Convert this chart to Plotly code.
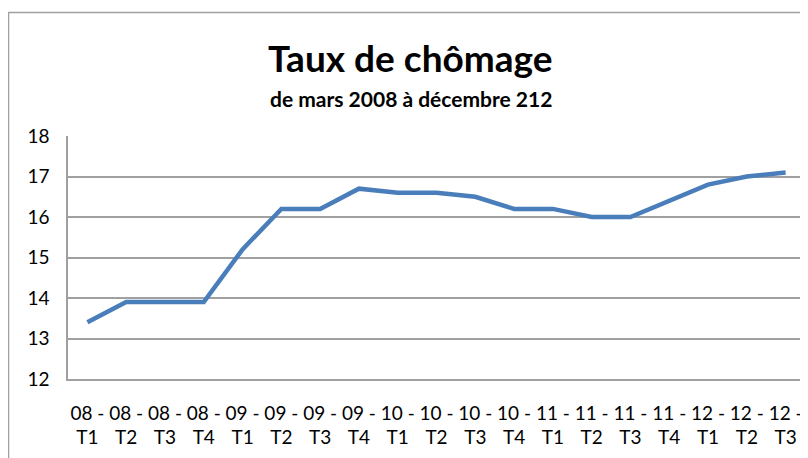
import plotly.graph_objects as go

categories = ["08 - T1", "08 - T2", "08 - T3", "08 - T4",
              "09 - T1", "09 - T2", "09 - T3", "09 - T4",
              "10 - T1", "10 - T2", "10 - T3", "10 - T4",
              "11 - T1", "11 - T2", "11 - T3", "11 - T4",
              "12 - T1", "12 - T2", "12 - T3"]
taux = [13.4, 13.9, 13.9, 13.9,
        15.2, 16.2, 16.2, 16.7,
        16.6, 16.6, 16.5, 16.2,
        16.2, 16.0, 16.0, 16.4,
        16.8, 17.0, 17.1]
y_ticks = [12, 13, 14, 15, 16, 17, 18]

title_text = "Taux de chômage"
subtitle_text = "de mars 2008 à décembre 212"

tick_text = [c.replace(" - ", " -<br>") for c in categories]

FONT = "Lato"
OFF = 8  # page body margin offset
W, H = 808 - OFF, 458 - OFF
# plot area in reference (window) pixels
PX0, PX1, PY0, PY1 = 68, 805, 136, 379
L, R, T, B = PX0 - OFF, W - (PX1 - OFF), PY0 - OFF, H - (PY1 - OFF)
pw = W - L - R
ph = H - T - B

def px_x(x):
    return (x - OFF - L) / pw

def px_y(y):
    return (H - B - (y - OFF)) / ph

fig = go.Figure()
fig.add_trace(go.Scatter(
    x=categories, y=taux, mode="lines",
    line=dict(color="#4A7EBB", width=4.5),
    hoverinfo="x+y", showlegend=False,
))

fig.update_layout(
    width=W, height=H,
    margin=dict(l=L, r=R, t=T, b=B, autoexpand=False),
    paper_bgcolor="white", plot_bgcolor="white",
    font=dict(family=FONT, size=19, color="#000000"),
    xaxis=dict(
        type="category", range=[-0.5, len(categories) - 0.5],
        tickmode="array", tickvals=categories, ticktext=tick_text,
        showgrid=False, showline=True, linecolor="#A0A0A0", linewidth=1.5,
        ticks="", tickangle=0, ticklabelstandoff=16, automargin=False,
        tickfont=dict(family=FONT, size=19, color="#000000"),
        fixedrange=True,
    ),
    yaxis=dict(
        range=[12, 18], tickmode="array", tickvals=y_ticks,
        showgrid=True, gridcolor="#A0A0A0", gridwidth=1.5,
        showline=True, linecolor="#A0A0A0", linewidth=1.5,
        zeroline=False, ticks="", ticklabelstandoff=13, automargin=False,
        tickfont=dict(family=FONT, size=19, color="#000000"),
        fixedrange=True,
    ),
    annotations=[
        dict(text="<b>" + title_text + "</b>", xref="paper", yref="paper",
             x=px_x(410), y=px_y(57), xanchor="center", yanchor="middle",
             showarrow=False, font=dict(family=FONT, size=37, color="#000000")),
        dict(text="<b>" + subtitle_text + "</b>", xref="paper", yref="paper",
             x=px_x(411), y=px_y(99), xanchor="center", yanchor="middle",
             showarrow=False, font=dict(family=FONT, size=21, color="#000000")),
    ],
    shapes=[
        dict(type="path", xref="paper", yref="paper",
             path=f"M {px_x(8.5)},{px_y(470)} L {px_x(8.5)},{px_y(12.5)} L {px_x(830)},{px_y(12.5)}",
             line=dict(color="#A0A0A0", width=1.5), layer="above"),
    ],
)

fig.write_html("out.html")
